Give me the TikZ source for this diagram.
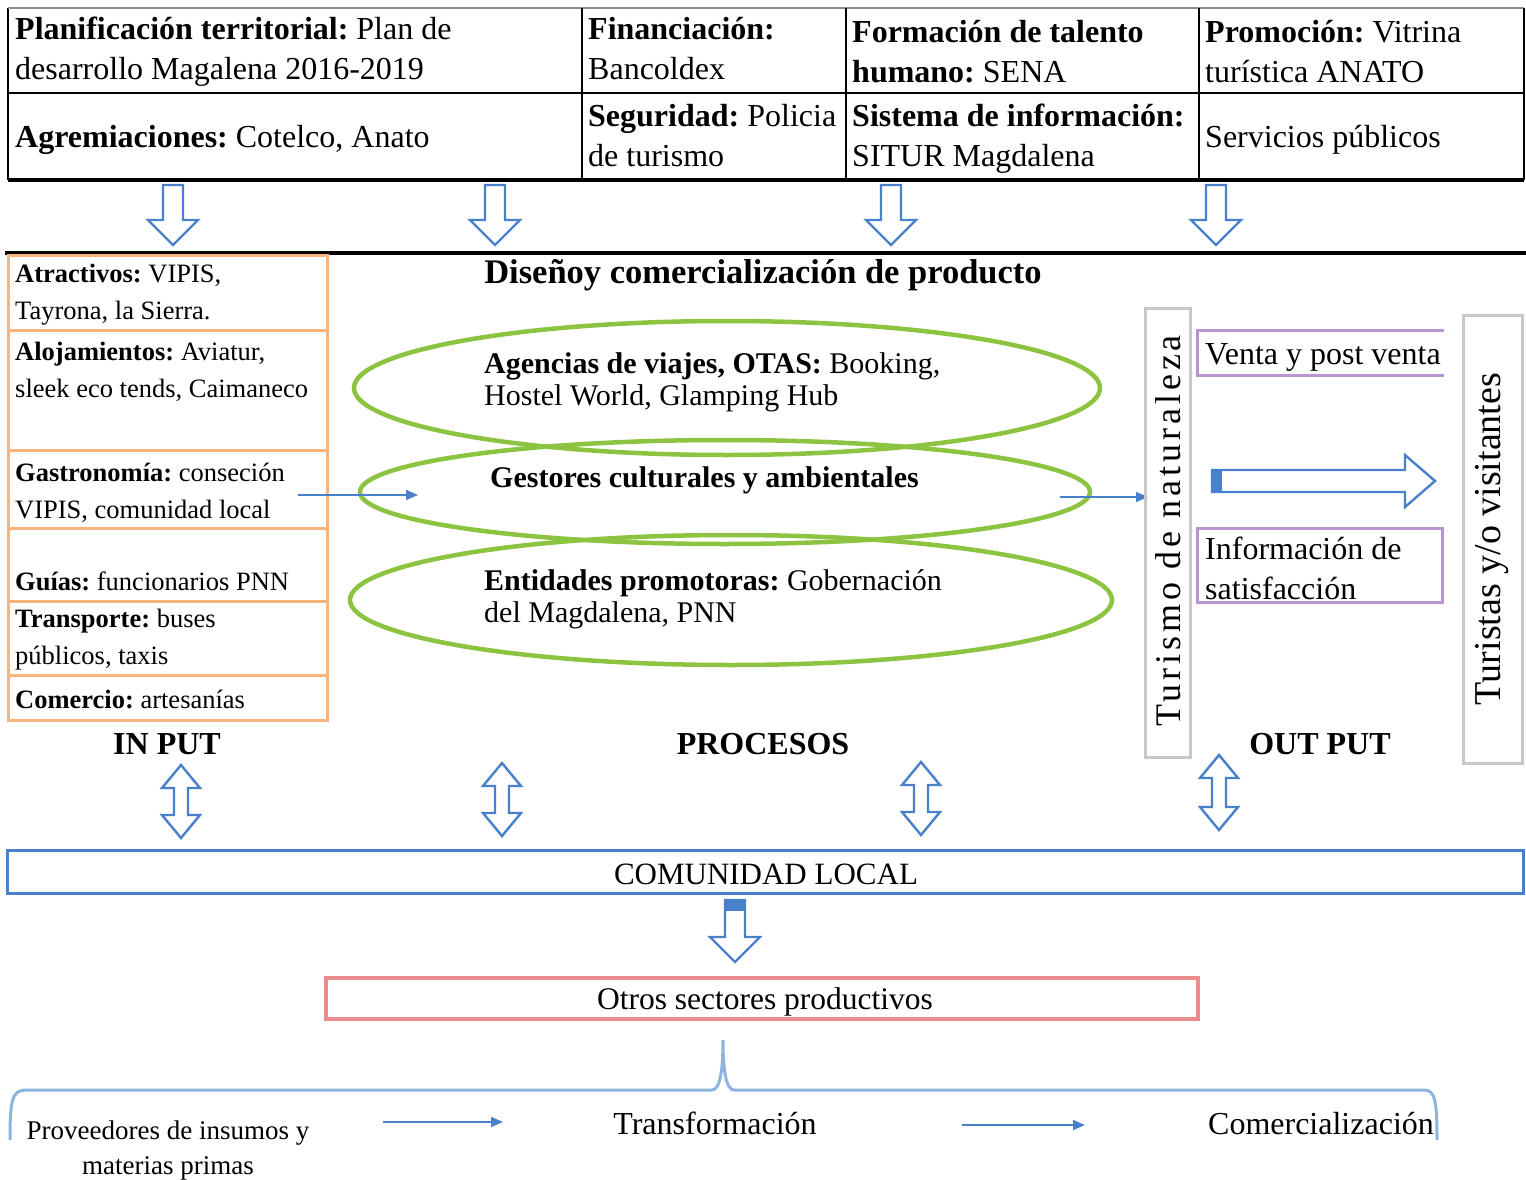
\documentclass[tikz,border=0pt]{standalone}
\usepackage{fontspec}
\setmainfont{Liberation Serif}
\newfontfamily\espaciada[LetterSpace=11]{Liberation Serif}
\usetikzlibrary{arrows.meta,shapes.geometric}
\definecolor{azul}{RGB}{72,128,204}
\definecolor{azulclaro}{RGB}{140,180,225}
\definecolor{naranja}{RGB}{248,180,125}
\definecolor{verde}{RGB}{140,195,65}
\definecolor{lila}{RGB}{185,150,210}
\definecolor{gris}{RGB}{200,200,200}
\definecolor{rosa}{RGB}{232,140,140}
\newcommand{\ftab}{\fontsize{32}{40}\selectfont}
\newcommand{\fcol}{\fontsize{26.5}{37}\selectfont}
\newcommand{\felip}{\fontsize{30}{32}\selectfont}
\newcommand{\fgr}{\fontsize{32}{40}\selectfont}
% flecha hueca hacia abajo: x, y arriba, y abajo
\newcommand{\flechabaja}[3]{%
  \path[draw,blk] (#1-10,#2) -- (#1+10,#2) -- (#1+10,#3-25) -- (#1+25,#3-25)
    -- (#1,#3) -- (#1-25,#3-25) -- (#1-10,#3-25) -- cycle;}
% flecha hueca doble vertical
\newcommand{\flechadoble}[3]{%
  \path[draw,blk] (#1,#2) -- (#1+19,#2+23) -- (#1+7,#2+23) -- (#1+7,#3-23)
    -- (#1+19,#3-23) -- (#1,#3) -- (#1-19,#3-23) -- (#1-7,#3-23)
    -- (#1-7,#2+23) -- (#1-19,#2+23) -- cycle;}
\tikzset{
  blk/.style={draw=azul, line width=2.4pt, fill=white, line join=miter},
  fina/.style={draw=azul, line width=1.5pt, -{Triangle[length=12pt,width=10pt]}},
  txt/.style={inner sep=0pt, anchor=base west, align=flush left, text width=#1},
  txt/.default=560pt,
  celda/.style={draw=naranja, line width=3pt},
  elip/.style={draw=verde, ellipse, line width=4.5pt, inner sep=0pt},
}
\begin{document}
\frenchspacing
\begin{tikzpicture}[x=1pt,y=-1pt]
\useasboundingbox (0,0) rectangle (1526,1180);

% tabla superior
\path[draw,line width=1.5pt] (8,180) -- (8,8);
\path[draw,line width=1.5pt,gris!70!black] (8,8) -- (1524,8);
\path[draw,line width=1.5pt] (1524,8) -- (1524,180);
\path[draw,line width=1.5pt] (8,93) -- (1524,93);
\foreach \cx in {582,846,1199}
  \path[draw,line width=1.5pt] (\cx,8) -- (\cx,180);
\path[draw,line width=3.5pt] (8,180) -- (1524,180);

\node[txt,font=\ftab] (plan) at (15,40) {\textbf{Planificación territorial:} Plan de\\desarrollo Magalena 2016-2019};
\node[txt,font=\ftab] (agre) at (15,147) {\textbf{Agremiaciones:} Cotelco, Anato};
\node[txt,font=\ftab] (fin) at (588,40) {\textbf{Financiación:}\\Bancoldex};
\node[txt,font=\ftab] (seg) at (588,127) {\textbf{Seguridad:} Policia\\de turismo};
\node[txt,font=\ftab] (form) at (852,43) {\textbf{Formación de talento}\\\textbf{humano:} SENA};
\node[txt,font=\ftab] (sist) at (852,127) {\textbf{Sistema de información:}\\SITUR Magdalena};
\node[txt,font=\ftab] (prom) at (1205,43) {\textbf{Promoción:} Vitrina\\turística ANATO};
\node[txt,font=\ftab] (serv) at (1205,147) {Servicios públicos};

\flechabaja{173}{185}{245}
\flechabaja{495}{185}{245}
\flechabaja{891}{185}{245}
\flechabaja{1216}{185}{245}

\path[draw,line width=3.5pt] (5,253) -- (1526,253);
\node[font=\fontsize{34.5}{40}\selectfont\bfseries,inner sep=0pt,anchor=base] (dis) at (763,283) {Diseñoy comercialización de producto};

% columna de entradas
\path[draw,celda] (8,255) rectangle (327,330);
\path[draw,celda] (8,330) rectangle (327,450);
\path[draw,celda] (8,450) rectangle (327,528);
\path[draw,celda] (8,528) rectangle (327,601);
\path[draw,celda] (8,601) rectangle (327,675);
\path[draw,celda] (8,675) rectangle (327,720);
\node[txt,font=\fcol] (atr) at (15,282) {\textbf{Atractivos:} VIPIS,\\Tayrona, la Sierra.};
\node[txt,font=\fcol] (alo) at (15,360) {\textbf{Alojamientos:} Aviatur,\\sleek eco tends, Caimaneco};
\node[txt,font=\fcol] (gas) at (15,481) {\textbf{Gastronomía:} conseción\\VIPIS, comunidad local};
\node[txt,font=\fcol] (gui) at (15,590) {\textbf{Guías:} funcionarios PNN};
\node[txt,font=\fcol] (tra) at (15,627) {\textbf{Transporte:} buses\\públicos, taxis};
\node[txt,font=\fcol] (com) at (15,708) {\textbf{Comercio:} artesanías};

% procesos
\node[elip,minimum width=746pt,minimum height=134pt] (e1) at (727,388) {};
\node[elip,minimum width=730pt,minimum height=104pt] (e2) at (725,492) {};
\node[elip,minimum width=762pt,minimum height=130pt] (e3) at (731,600) {};
\node[txt,font=\felip] (age) at (484,373) {\textbf{Agencias de viajes, OTAS:} Booking,\\Hostel World, Glamping Hub};
\node[txt,font=\felip] (ges) at (490,487) {\textbf{Gestores culturales y ambientales}};
\node[txt,font=\felip] (ent) at (484,590) {\textbf{Entidades promotoras:} Gobernación\\del Magdalena, PNN};

\coordinate (a1) at (298,495);
\coordinate (a2) at (418,495);
\coordinate (a3) at (1060,497);
\coordinate (a4) at (1148,497);
\path[fina] (a1) -- (a2);
\path[fina] (a3) -- (a4);

% salidas
\node[draw=gris,line width=3pt,minimum width=45pt,minimum height=449pt,inner sep=0pt] (tn) at (1167.5,532.5) {};
\node[rotate=90,font=\fontsize{36}{40}\espaciada,inner sep=0pt] (tnt) at (1168,531) {Turismo de naturaleza};
\node[draw=gris,line width=3pt,minimum width=59pt,minimum height=448pt,inner sep=0pt] (tv) at (1492.5,539) {};
\node[rotate=90,font=\fontsize{38}{40}\selectfont,inner sep=0pt] (tvt) at (tv.center) {Turistas y/o visitantes};

\path[draw=lila,line width=3pt] (1444,330) -- (1197,330) -- (1197,375) -- (1444,375);
\node[txt,font=\fgr] (ven) at (1205,364) {Venta y post venta};
\path[draw=lila,line width=3pt] (1197,528) rectangle (1442,602);
\node[txt,font=\fgr] (inf) at (1205,559) {Información de\\satisfacción};

\path[draw,blk] (1212,470) -- (1405,470) -- (1405,455) -- (1435,481) -- (1405,507)
  -- (1405,492) -- (1212,492) -- cycle;
\path[fill=azul] (1211,469) rectangle (1222,493);

\node[font=\fgr\bfseries,inner sep=0pt,anchor=base] (inp) at (167,754) {IN PUT};
\node[font=\fgr\bfseries,inner sep=0pt,anchor=base] (pro) at (763,754) {PROCESOS};
\node[font=\fgr\bfseries,inner sep=0pt,anchor=base] (out) at (1320,754) {OUT PUT};

\flechadoble{181}{765}{838}
\flechadoble{502}{763}{836}
\flechadoble{921}{762}{835}
\flechadoble{1219}{755}{830}

% comunidad y sectores
\node[draw=azul,line width=3pt,minimum width=1516pt,minimum height=43pt,inner sep=0pt] (cl) at (765,871.5) {};
\node[font=\fontsize{31}{36}\selectfont,inner sep=0pt,anchor=base] (clt) at (766,884) {COMUNIDAD LOCAL};
\flechabaja{735}{900}{962}
\path[fill=azul] (725,899) rectangle (745,911);
\node[draw=rosa,line width=3.5pt,minimum width=872pt,minimum height=41pt,inner sep=0pt] (ot) at (762,998.5) {};
\node[font=\fontsize{31.5}{36}\selectfont,inner sep=0pt,anchor=base] (ott) at (765,1009) {Otros sectores productivos};

\path[draw=azulclaro,line width=3pt] (10,1140) .. controls (10,1100) and (12,1090) .. (26,1090)
  -- (712,1090) .. controls (720,1090) and (723,1070) .. (723,1040)
  .. controls (723,1070) and (726,1090) .. (734,1090) -- (1424,1090)
  .. controls (1435,1090) and (1437,1100) .. (1437,1140);

\node[font=\fontsize{27}{35}\selectfont,inner sep=0pt,anchor=base,align=flush center,text width=320pt] (prv) at (168,1139) {Proveedores de insumos y\\materias primas};
\node[font=\fgr,inner sep=0pt,anchor=base] (trf) at (715,1134) {Transformación};
\node[font=\fgr,inner sep=0pt,anchor=base] (cmz) at (1321,1134) {Comercialización};
\coordinate (b1) at (383,1122);
\coordinate (b2) at (503,1122);
\coordinate (b3) at (962,1125);
\coordinate (b4) at (1085,1125);
\path[fina] (b1) -- (b2);
\path[fina] (b3) -- (b4);
\end{tikzpicture}
\end{document}
